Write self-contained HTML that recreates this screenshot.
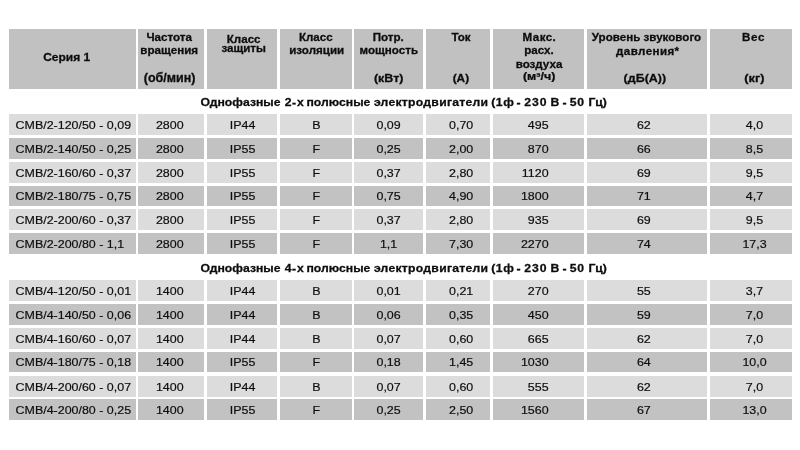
<!DOCTYPE html>
<html><head><meta charset="utf-8"><style>
html,body{margin:0;padding:0;background:#fff;}
body{width:800px;height:450px;position:relative;overflow:hidden;font-family:"Liberation Sans","Noto Sans CJK SC",sans-serif;color:#0d0d0d;filter:grayscale(1);}
.c{position:absolute;}
.h{background:#c1c1c1;}
.l{background:#dcdcdc;}
.d{background:#c2c2c2;}
.t{position:absolute;white-space:nowrap;text-align:center;width:240px;height:20px;line-height:20px;}
.hb{-webkit-text-stroke:0.3px currentColor;font-weight:bold;font-size:11.6px;transform:scaleY(0.87);transform-origin:50% 14.02px;}
.dt{-webkit-text-stroke:0.2px currentColor;font-size:12.45px;transform:scaleY(0.95);transform-origin:50% 14.31px;}
.ttl{-webkit-text-stroke:0.3px currentColor;position:absolute;white-space:nowrap;font-weight:bold;font-size:12.2px;line-height:20px;height:20px;word-spacing:0.85px;transform:scaleY(0.87);transform-origin:0 14.23px;}
</style></head><body>

<div class="c h" style="left:9px;top:29px;width:127px;height:60px"></div>
<div class="c h" style="left:138px;top:29px;width:66px;height:60px"></div>
<div class="c h" style="left:207px;top:29px;width:70px;height:60px"></div>
<div class="c h" style="left:280px;top:29px;width:72px;height:60px"></div>
<div class="c h" style="left:354px;top:29px;width:69px;height:60px"></div>
<div class="c h" style="left:426px;top:29px;width:64px;height:60px"></div>
<div class="c h" style="left:493px;top:29px;width:91px;height:60px"></div>
<div class="c h" style="left:587px;top:29px;width:120px;height:60px"></div>
<div class="c h" style="left:710px;top:29px;width:82px;height:60px"></div>
<div class="t hb" style="left:-53.3px;top:47.44px;font-size:12px;transform-origin:50% 14.16px;transform:scaleY(0.96);">Серия 1</div>
<div class="t hb" style="left:49.2px;top:27.08px;">Частота</div>
<div class="t hb" style="left:49.2px;top:40.18px;">вращения</div>
<div class="t hb" style="left:49.6px;top:68.47px;font-size:12.5px;transform-origin:50% 14.33px;transform:scaleY(1);">(об/мин)</div>
<div class="t hb" style="left:123.7px;top:28.58px;">Класс</div>
<div class="t hb" style="left:123.7px;top:38.38px;">защиты</div>
<div class="t hb" style="left:195.8px;top:26.98px;">Класс</div>
<div class="t hb" style="left:196.7px;top:40.38px;">изоляции</div>
<div class="t hb" style="left:268.2px;top:27.28px;">Потр.</div>
<div class="t hb" style="left:268.8px;top:40.18px;">мощность</div>
<div class="t hb" style="left:268.7px;top:68.07px;font-size:12.5px;transform-origin:50% 14.33px;transform:scaleY(0.87);">(кВт)</div>
<div class="t hb" style="left:341px;top:26.78px;">Ток</div>
<div class="t hb" style="left:340.9px;top:67.91px;font-size:11.8px;transform-origin:50% 14.09px;transform:scaleY(0.87);">(А)</div>
<div class="t hb" style="left:419.2px;top:26.88px;letter-spacing:0.4px;text-indent:0.4px;">Макс.</div>
<div class="t hb" style="left:419px;top:40.28px;">расх.</div>
<div class="t hb" style="left:419px;top:53.68px;">воздуха</div>
<div class="t hb" style="left:419.2px;top:66.47px;font-size:12.5px;transform-origin:50% 14.33px;transform:scaleY(0.82);">(м³/ч)</div>
<div class="t hb" style="left:526.5px;top:27.48px;">Уровень звукового</div>
<div class="t hb" style="left:527.6px;top:40.98px;letter-spacing:0.4px;text-indent:0.4px;">давления*</div>
<div class="t hb" style="left:524.9px;top:68.07px;font-size:12.5px;transform-origin:50% 14.33px;transform:scaleY(0.88);">(дБ(А))</div>
<div class="t hb" style="left:633.2px;top:27.18px;letter-spacing:0.7px;text-indent:0.7px;">Вес</div>
<div class="t hb" style="left:634.5px;top:68.16px;font-size:12.8px;transform-origin:50% 14.44px;transform:scaleY(0.87);">(кг)</div>
<div class="c l" style="left:9px;top:114px;width:127px;height:21px"></div>
<div class="c l" style="left:138px;top:114px;width:66px;height:21px"></div>
<div class="c l" style="left:207px;top:114px;width:70px;height:21px"></div>
<div class="c l" style="left:280px;top:114px;width:72px;height:21px"></div>
<div class="c l" style="left:354px;top:114px;width:69px;height:21px"></div>
<div class="c l" style="left:426px;top:114px;width:64px;height:21px"></div>
<div class="c l" style="left:493px;top:114px;width:91px;height:21px"></div>
<div class="c l" style="left:587px;top:114px;width:120px;height:21px"></div>
<div class="c l" style="left:710px;top:114px;width:82px;height:21px"></div>
<div class="t dt" style="left:15.6px;top:114.72px;text-align:left">CMB/2-120/50 - 0,09</div>
<div class="t dt" style="left:49.8px;top:114.72px">2800</div>
<div class="t dt" style="left:122.6px;top:114.72px">IP44</div>
<div class="t dt" style="left:196.3px;top:114.72px">B</div>
<div class="t dt" style="left:268.6px;top:114.72px">0,09</div>
<div class="t dt" style="left:341.2px;top:114.72px">0,70</div>
<div class="t dt" style="left:308.6px;top:114.72px;text-align:right">495</div>
<div class="t dt" style="left:523.8px;top:114.72px">62</div>
<div class="t dt" style="left:634.5px;top:114.72px">4,0</div>
<div class="c d" style="left:9px;top:138px;width:127px;height:21px"></div>
<div class="c d" style="left:138px;top:138px;width:66px;height:21px"></div>
<div class="c d" style="left:207px;top:138px;width:70px;height:21px"></div>
<div class="c d" style="left:280px;top:138px;width:72px;height:21px"></div>
<div class="c d" style="left:354px;top:138px;width:69px;height:21px"></div>
<div class="c d" style="left:426px;top:138px;width:64px;height:21px"></div>
<div class="c d" style="left:493px;top:138px;width:91px;height:21px"></div>
<div class="c d" style="left:587px;top:138px;width:120px;height:21px"></div>
<div class="c d" style="left:710px;top:138px;width:82px;height:21px"></div>
<div class="t dt" style="left:15.6px;top:138.72px;text-align:left">CMB/2-140/50 - 0,25</div>
<div class="t dt" style="left:49.8px;top:138.72px">2800</div>
<div class="t dt" style="left:122.6px;top:138.72px">IP55</div>
<div class="t dt" style="left:196.3px;top:138.72px">F</div>
<div class="t dt" style="left:268.6px;top:138.72px">0,25</div>
<div class="t dt" style="left:341.2px;top:138.72px">2,00</div>
<div class="t dt" style="left:308.6px;top:138.72px;text-align:right">870</div>
<div class="t dt" style="left:523.8px;top:138.72px">66</div>
<div class="t dt" style="left:634.5px;top:138.72px">8,5</div>
<div class="c l" style="left:9px;top:162px;width:127px;height:21px"></div>
<div class="c l" style="left:138px;top:162px;width:66px;height:21px"></div>
<div class="c l" style="left:207px;top:162px;width:70px;height:21px"></div>
<div class="c l" style="left:280px;top:162px;width:72px;height:21px"></div>
<div class="c l" style="left:354px;top:162px;width:69px;height:21px"></div>
<div class="c l" style="left:426px;top:162px;width:64px;height:21px"></div>
<div class="c l" style="left:493px;top:162px;width:91px;height:21px"></div>
<div class="c l" style="left:587px;top:162px;width:120px;height:21px"></div>
<div class="c l" style="left:710px;top:162px;width:82px;height:21px"></div>
<div class="t dt" style="left:15.6px;top:162.72px;text-align:left">CMB/2-160/60 - 0,37</div>
<div class="t dt" style="left:49.8px;top:162.72px">2800</div>
<div class="t dt" style="left:122.6px;top:162.72px">IP55</div>
<div class="t dt" style="left:196.3px;top:162.72px">F</div>
<div class="t dt" style="left:268.6px;top:162.72px">0,37</div>
<div class="t dt" style="left:341.2px;top:162.72px">2,80</div>
<div class="t dt" style="left:308.6px;top:162.72px;text-align:right">1120</div>
<div class="t dt" style="left:523.8px;top:162.72px">69</div>
<div class="t dt" style="left:634.5px;top:162.72px">9,5</div>
<div class="c d" style="left:9px;top:186px;width:127px;height:20px"></div>
<div class="c d" style="left:138px;top:186px;width:66px;height:20px"></div>
<div class="c d" style="left:207px;top:186px;width:70px;height:20px"></div>
<div class="c d" style="left:280px;top:186px;width:72px;height:20px"></div>
<div class="c d" style="left:354px;top:186px;width:69px;height:20px"></div>
<div class="c d" style="left:426px;top:186px;width:64px;height:20px"></div>
<div class="c d" style="left:493px;top:186px;width:91px;height:20px"></div>
<div class="c d" style="left:587px;top:186px;width:120px;height:20px"></div>
<div class="c d" style="left:710px;top:186px;width:82px;height:20px"></div>
<div class="t dt" style="left:15.6px;top:186.22px;text-align:left">CMB/2-180/75 - 0,75</div>
<div class="t dt" style="left:49.8px;top:186.22px">2800</div>
<div class="t dt" style="left:122.6px;top:186.22px">IP55</div>
<div class="t dt" style="left:196.3px;top:186.22px">F</div>
<div class="t dt" style="left:268.6px;top:186.22px">0,75</div>
<div class="t dt" style="left:341.2px;top:186.22px">4,90</div>
<div class="t dt" style="left:308.6px;top:186.22px;text-align:right">1800</div>
<div class="t dt" style="left:523.8px;top:186.22px">71</div>
<div class="t dt" style="left:634.5px;top:186.22px">4,7</div>
<div class="c l" style="left:9px;top:209px;width:127px;height:21px"></div>
<div class="c l" style="left:138px;top:209px;width:66px;height:21px"></div>
<div class="c l" style="left:207px;top:209px;width:70px;height:21px"></div>
<div class="c l" style="left:280px;top:209px;width:72px;height:21px"></div>
<div class="c l" style="left:354px;top:209px;width:69px;height:21px"></div>
<div class="c l" style="left:426px;top:209px;width:64px;height:21px"></div>
<div class="c l" style="left:493px;top:209px;width:91px;height:21px"></div>
<div class="c l" style="left:587px;top:209px;width:120px;height:21px"></div>
<div class="c l" style="left:710px;top:209px;width:82px;height:21px"></div>
<div class="t dt" style="left:15.6px;top:209.72px;text-align:left">CMB/2-200/60 - 0,37</div>
<div class="t dt" style="left:49.8px;top:209.72px">2800</div>
<div class="t dt" style="left:122.6px;top:209.72px">IP55</div>
<div class="t dt" style="left:196.3px;top:209.72px">F</div>
<div class="t dt" style="left:268.6px;top:209.72px">0,37</div>
<div class="t dt" style="left:341.2px;top:209.72px">2,80</div>
<div class="t dt" style="left:308.6px;top:209.72px;text-align:right">935</div>
<div class="t dt" style="left:523.8px;top:209.72px">69</div>
<div class="t dt" style="left:634.5px;top:209.72px">9,5</div>
<div class="c d" style="left:9px;top:233px;width:127px;height:21px"></div>
<div class="c d" style="left:138px;top:233px;width:66px;height:21px"></div>
<div class="c d" style="left:207px;top:233px;width:70px;height:21px"></div>
<div class="c d" style="left:280px;top:233px;width:72px;height:21px"></div>
<div class="c d" style="left:354px;top:233px;width:69px;height:21px"></div>
<div class="c d" style="left:426px;top:233px;width:64px;height:21px"></div>
<div class="c d" style="left:493px;top:233px;width:91px;height:21px"></div>
<div class="c d" style="left:587px;top:233px;width:120px;height:21px"></div>
<div class="c d" style="left:710px;top:233px;width:82px;height:21px"></div>
<div class="t dt" style="left:15.6px;top:233.72px;text-align:left">CMB/2-200/80 - 1,1</div>
<div class="t dt" style="left:49.8px;top:233.72px">2800</div>
<div class="t dt" style="left:122.6px;top:233.72px">IP55</div>
<div class="t dt" style="left:196.3px;top:233.72px">F</div>
<div class="t dt" style="left:268.6px;top:233.72px">1,1</div>
<div class="t dt" style="left:341.2px;top:233.72px">7,30</div>
<div class="t dt" style="left:308.6px;top:233.72px;text-align:right">2270</div>
<div class="t dt" style="left:523.8px;top:233.72px">74</div>
<div class="t dt" style="left:634.5px;top:233.72px">17,3</div>
<div class="ttl" style="left:200.6px;top:91.77px;">Однофазные</div>
<div class="ttl" style="left:284.7px;top:91.77px;">2</div>
<div class="ttl" style="left:292px;top:91.77px;">-</div>
<div class="ttl" style="left:297px;top:91.77px;">х</div>
<div class="ttl" style="left:306.5px;top:91.77px;">полюсные</div>
<div class="ttl" style="left:373.9px;top:91.77px;letter-spacing:0.27px;">электродвигатели</div>
<div class="ttl" style="left:491.2px;top:91.77px;letter-spacing:0.6px;">(1ф</div>
<div class="ttl" style="left:516.4px;top:91.77px;">-</div>
<div class="ttl" style="left:524.3px;top:91.77px;letter-spacing:1px;">230</div>
<div class="ttl" style="left:550.6px;top:91.77px;">В</div>
<div class="ttl" style="left:562.4px;top:91.77px;">-</div>
<div class="ttl" style="left:569.7px;top:91.77px;letter-spacing:0.8px;">50</div>
<div class="ttl" style="left:588.4px;top:91.77px;">Гц)</div>
<div class="c l" style="left:9px;top:280px;width:127px;height:21px"></div>
<div class="c l" style="left:138px;top:280px;width:66px;height:21px"></div>
<div class="c l" style="left:207px;top:280px;width:70px;height:21px"></div>
<div class="c l" style="left:280px;top:280px;width:72px;height:21px"></div>
<div class="c l" style="left:354px;top:280px;width:69px;height:21px"></div>
<div class="c l" style="left:426px;top:280px;width:64px;height:21px"></div>
<div class="c l" style="left:493px;top:280px;width:91px;height:21px"></div>
<div class="c l" style="left:587px;top:280px;width:120px;height:21px"></div>
<div class="c l" style="left:710px;top:280px;width:82px;height:21px"></div>
<div class="t dt" style="left:15.6px;top:280.72px;text-align:left">CMB/4-120/50 - 0,01</div>
<div class="t dt" style="left:49.8px;top:280.72px">1400</div>
<div class="t dt" style="left:122.6px;top:280.72px">IP44</div>
<div class="t dt" style="left:196.3px;top:280.72px">B</div>
<div class="t dt" style="left:268.6px;top:280.72px">0,01</div>
<div class="t dt" style="left:341.2px;top:280.72px">0,21</div>
<div class="t dt" style="left:308.6px;top:280.72px;text-align:right">270</div>
<div class="t dt" style="left:523.8px;top:280.72px">55</div>
<div class="t dt" style="left:634.5px;top:280.72px">3,7</div>
<div class="c d" style="left:9px;top:304px;width:127px;height:21px"></div>
<div class="c d" style="left:138px;top:304px;width:66px;height:21px"></div>
<div class="c d" style="left:207px;top:304px;width:70px;height:21px"></div>
<div class="c d" style="left:280px;top:304px;width:72px;height:21px"></div>
<div class="c d" style="left:354px;top:304px;width:69px;height:21px"></div>
<div class="c d" style="left:426px;top:304px;width:64px;height:21px"></div>
<div class="c d" style="left:493px;top:304px;width:91px;height:21px"></div>
<div class="c d" style="left:587px;top:304px;width:120px;height:21px"></div>
<div class="c d" style="left:710px;top:304px;width:82px;height:21px"></div>
<div class="t dt" style="left:15.6px;top:304.72px;text-align:left">CMB/4-140/50 - 0,06</div>
<div class="t dt" style="left:49.8px;top:304.72px">1400</div>
<div class="t dt" style="left:122.6px;top:304.72px">IP44</div>
<div class="t dt" style="left:196.3px;top:304.72px">B</div>
<div class="t dt" style="left:268.6px;top:304.72px">0,06</div>
<div class="t dt" style="left:341.2px;top:304.72px">0,35</div>
<div class="t dt" style="left:308.6px;top:304.72px;text-align:right">450</div>
<div class="t dt" style="left:523.8px;top:304.72px">59</div>
<div class="t dt" style="left:634.5px;top:304.72px">7,0</div>
<div class="c l" style="left:9px;top:328px;width:127px;height:21px"></div>
<div class="c l" style="left:138px;top:328px;width:66px;height:21px"></div>
<div class="c l" style="left:207px;top:328px;width:70px;height:21px"></div>
<div class="c l" style="left:280px;top:328px;width:72px;height:21px"></div>
<div class="c l" style="left:354px;top:328px;width:69px;height:21px"></div>
<div class="c l" style="left:426px;top:328px;width:64px;height:21px"></div>
<div class="c l" style="left:493px;top:328px;width:91px;height:21px"></div>
<div class="c l" style="left:587px;top:328px;width:120px;height:21px"></div>
<div class="c l" style="left:710px;top:328px;width:82px;height:21px"></div>
<div class="t dt" style="left:15.6px;top:328.72px;text-align:left">CMB/4-160/60 - 0,07</div>
<div class="t dt" style="left:49.8px;top:328.72px">1400</div>
<div class="t dt" style="left:122.6px;top:328.72px">IP44</div>
<div class="t dt" style="left:196.3px;top:328.72px">B</div>
<div class="t dt" style="left:268.6px;top:328.72px">0,07</div>
<div class="t dt" style="left:341.2px;top:328.72px">0,60</div>
<div class="t dt" style="left:308.6px;top:328.72px;text-align:right">665</div>
<div class="t dt" style="left:523.8px;top:328.72px">62</div>
<div class="t dt" style="left:634.5px;top:328.72px">7,0</div>
<div class="c d" style="left:9px;top:352px;width:127px;height:20px"></div>
<div class="c d" style="left:138px;top:352px;width:66px;height:20px"></div>
<div class="c d" style="left:207px;top:352px;width:70px;height:20px"></div>
<div class="c d" style="left:280px;top:352px;width:72px;height:20px"></div>
<div class="c d" style="left:354px;top:352px;width:69px;height:20px"></div>
<div class="c d" style="left:426px;top:352px;width:64px;height:20px"></div>
<div class="c d" style="left:493px;top:352px;width:91px;height:20px"></div>
<div class="c d" style="left:587px;top:352px;width:120px;height:20px"></div>
<div class="c d" style="left:710px;top:352px;width:82px;height:20px"></div>
<div class="t dt" style="left:15.6px;top:352.22px;text-align:left">CMB/4-180/75 - 0,18</div>
<div class="t dt" style="left:49.8px;top:352.22px">1400</div>
<div class="t dt" style="left:122.6px;top:352.22px">IP55</div>
<div class="t dt" style="left:196.3px;top:352.22px">F</div>
<div class="t dt" style="left:268.6px;top:352.22px">0,18</div>
<div class="t dt" style="left:341.2px;top:352.22px">1,45</div>
<div class="t dt" style="left:308.6px;top:352.22px;text-align:right">1030</div>
<div class="t dt" style="left:523.8px;top:352.22px">64</div>
<div class="t dt" style="left:634.5px;top:352.22px">10,0</div>
<div class="c l" style="left:9px;top:376px;width:127px;height:21px"></div>
<div class="c l" style="left:138px;top:376px;width:66px;height:21px"></div>
<div class="c l" style="left:207px;top:376px;width:70px;height:21px"></div>
<div class="c l" style="left:280px;top:376px;width:72px;height:21px"></div>
<div class="c l" style="left:354px;top:376px;width:69px;height:21px"></div>
<div class="c l" style="left:426px;top:376px;width:64px;height:21px"></div>
<div class="c l" style="left:493px;top:376px;width:91px;height:21px"></div>
<div class="c l" style="left:587px;top:376px;width:120px;height:21px"></div>
<div class="c l" style="left:710px;top:376px;width:82px;height:21px"></div>
<div class="t dt" style="left:15.6px;top:376.72px;text-align:left">CMB/4-200/60 - 0,07</div>
<div class="t dt" style="left:49.8px;top:376.72px">1400</div>
<div class="t dt" style="left:122.6px;top:376.72px">IP44</div>
<div class="t dt" style="left:196.3px;top:376.72px">B</div>
<div class="t dt" style="left:268.6px;top:376.72px">0,07</div>
<div class="t dt" style="left:341.2px;top:376.72px">0,60</div>
<div class="t dt" style="left:308.6px;top:376.72px;text-align:right">555</div>
<div class="t dt" style="left:523.8px;top:376.72px">62</div>
<div class="t dt" style="left:634.5px;top:376.72px">7,0</div>
<div class="c d" style="left:9px;top:399px;width:127px;height:21px"></div>
<div class="c d" style="left:138px;top:399px;width:66px;height:21px"></div>
<div class="c d" style="left:207px;top:399px;width:70px;height:21px"></div>
<div class="c d" style="left:280px;top:399px;width:72px;height:21px"></div>
<div class="c d" style="left:354px;top:399px;width:69px;height:21px"></div>
<div class="c d" style="left:426px;top:399px;width:64px;height:21px"></div>
<div class="c d" style="left:493px;top:399px;width:91px;height:21px"></div>
<div class="c d" style="left:587px;top:399px;width:120px;height:21px"></div>
<div class="c d" style="left:710px;top:399px;width:82px;height:21px"></div>
<div class="t dt" style="left:15.6px;top:399.72px;text-align:left">CMB/4-200/80 - 0,25</div>
<div class="t dt" style="left:49.8px;top:399.72px">1400</div>
<div class="t dt" style="left:122.6px;top:399.72px">IP55</div>
<div class="t dt" style="left:196.3px;top:399.72px">F</div>
<div class="t dt" style="left:268.6px;top:399.72px">0,25</div>
<div class="t dt" style="left:341.2px;top:399.72px">2,50</div>
<div class="t dt" style="left:308.6px;top:399.72px;text-align:right">1560</div>
<div class="t dt" style="left:523.8px;top:399.72px">67</div>
<div class="t dt" style="left:634.5px;top:399.72px">13,0</div>
<div class="ttl" style="left:200.6px;top:257.67px;">Однофазные</div>
<div class="ttl" style="left:284.7px;top:257.67px;">4</div>
<div class="ttl" style="left:292px;top:257.67px;">-</div>
<div class="ttl" style="left:297px;top:257.67px;">х</div>
<div class="ttl" style="left:306.5px;top:257.67px;">полюсные</div>
<div class="ttl" style="left:373.9px;top:257.67px;letter-spacing:0.27px;">электродвигатели</div>
<div class="ttl" style="left:491.2px;top:257.67px;letter-spacing:0.6px;">(1ф</div>
<div class="ttl" style="left:516.4px;top:257.67px;">-</div>
<div class="ttl" style="left:524.3px;top:257.67px;letter-spacing:1px;">230</div>
<div class="ttl" style="left:550.6px;top:257.67px;">В</div>
<div class="ttl" style="left:562.4px;top:257.67px;">-</div>
<div class="ttl" style="left:569.7px;top:257.67px;letter-spacing:0.8px;">50</div>
<div class="ttl" style="left:588.4px;top:257.67px;">Гц)</div>
</body></html>
